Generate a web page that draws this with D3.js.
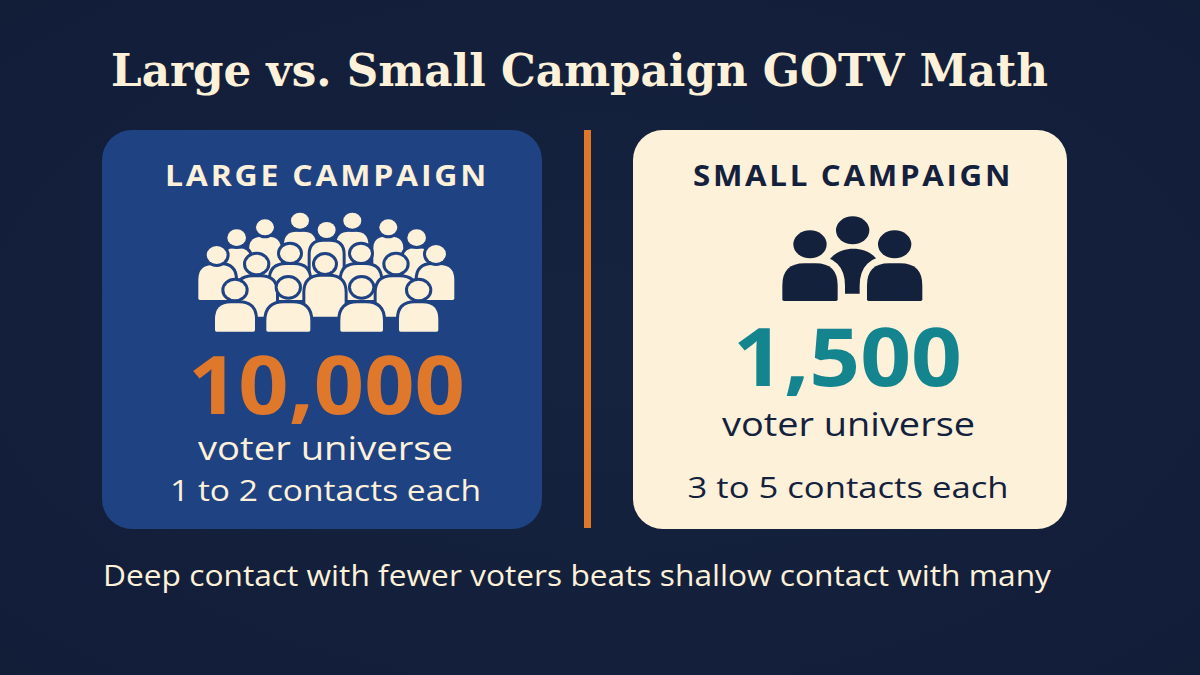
<!DOCTYPE html>
<html>
<head>
<meta charset="utf-8">
<title>Large vs. Small Campaign GOTV Math</title>
<script src="https://cdn.jsdelivr.net/npm/d3@7"></script>
<style>
  html,body{margin:0;padding:0;background:#14213d}
  svg{display:block}
  text{font-family:"Open Sans","Noto Sans",sans-serif}
</style>
</head>
<body>
<svg id="chart" width="1200" height="675"></svg>
<script>
// values
const titleText = 'Large vs. Small Campaign GOTV Math';
const footerText = 'Deep contact with fewer voters beats shallow contact with many';
const campaigns = ['LARGE CAMPAIGN', 'SMALL CAMPAIGN'];
const voterUniverse = [10000, 1500];
const universeLabel = ['voter universe', 'voter universe'];
const contactLabels = ['1 to 2 contacts each', '3 to 5 contacts each'];

// colours
const BG = '#14213d', BLUE = '#1f4283', CREAM = '#fdf1d9', ORANGE = '#e0782b', TEAL = '#14858f';

// layout, one entry per panel
const panelBox = [{x: 102, y: 130, w: 440, h: 399}, {x: 633, y: 130, w: 434, h: 399}];
const panelFill = [BLUE, CREAM];
const inkFill = [CREAM, BG];
const numberFill = [ORANGE, TEAL];
const nameX = [327, 853], nameY = [186, 186], nameW = [324, 320];
const numberX = [326.5, 847.5], numberY = [414, 386], numberW = [277, 229];
const universeX = [325.5, 848.5], universeY = [460, 436], universeW = [255, 253];
const contactX = [325.5, 848], contactY = [501, 498], contactW = [311, 321];

// crowd icon, in 3x units of the icon box, back to front
const crowd = [
  [360,62,27,24,48,95,260],[517,62,27,24,48,95,260],
  [255,82,27,24,48,110,300],[625,82,27,24,45,110,300],
  [440,90,27,24,48,125,260],
  [170,113,28,25,40,145,300],[710,113,28,25,40,145,300],
  [330,160,30,26,58,195,300],[543,160,30,26,58,195,300],
  [110,165,30,27,55,195,300],[768,162,30,27,55,195,300],
  [230,192,32,28,58,232,350],[648,192,32,28,58,232,350],
  [435,192,30,27,59,230,350],
  [165,270,32,28,60,310,395],[325,262,32,28,66,310,395],
  [545,262,32,28,64,310,395],[716,270,32,28,59,310,395]
];
// small icon: side figures in front of a centre figure
const trio = [[120,118,50,42,83,175,288],[374,118,50,42,83,175,288]];

const svg = d3.select('#chart');

// faint vignette on the background
const defs = svg.append('defs');
const grad = defs.append('radialGradient').attr('id', 'bg').attr('r', '75%');
grad.append('stop').attr('offset', '0%').attr('stop-color', '#15233f');
grad.append('stop').attr('offset', '100%').attr('stop-color', '#121d38');
svg.append('rect').attr('width', 1200).attr('height', 675).attr('fill', 'url(#bg)');

svg.append('text')
  .attr('x', 111).attr('y', 86)
  .attr('textLength', 937).attr('lengthAdjust', 'spacingAndGlyphs')
  .attr('fill', CREAM)
  .style('font-family', '"DejaVu Serif",serif')
  .style('font-weight', 700).style('font-size', '45px')
  .text(titleText);

// divider
svg.append('rect').attr('x', 584).attr('y', 130).attr('width', 7).attr('height', 398).attr('fill', ORANGE);

const panels = svg.selectAll('g.panel')
  .data(campaigns.map((name, i) => ({name, i})))
  .join('g').attr('class', 'panel');

panels.append('rect')
  .attr('x', d => panelBox[d.i].x).attr('y', d => panelBox[d.i].y)
  .attr('width', d => panelBox[d.i].w).attr('height', d => panelBox[d.i].h)
  .attr('rx', 30)
  .attr('fill', d => panelFill[d.i]);

// all panel text is fitted to the measured width in the reference
function panelText(xArr, yArr, wArr, weight, size, fill, label) {
  return panels.append('text')
    .attr('x', d => xArr[d.i]).attr('y', d => yArr[d.i])
    .attr('text-anchor', 'middle').attr('fill', fill)
    .attr('textLength', d => wArr[d.i]).attr('lengthAdjust', 'spacingAndGlyphs')
    .style('font-weight', weight).style('font-size', size)
    .text(label);
}

const fmt = d3.format(',');
panelText(nameX, nameY, nameW, 700, '29px', d => inkFill[d.i], d => d.name).style('letter-spacing', '2.5px');
panelText(numberX, numberY, numberW, 700, '80px', d => numberFill[d.i], d => fmt(voterUniverse[d.i]));
panelText(universeX, universeY, universeW, 500, '33px', d => inkFill[d.i], d => universeLabel[d.i]);
panelText(contactX, contactY, contactW, 500, '30px', d => inkFill[d.i], d => contactLabels[d.i]);

svg.append('text')
  .attr('x', 103).attr('y', 586)
  .attr('textLength', 948).attr('lengthAdjust', 'spacingAndGlyphs')
  .attr('fill', CREAM)
  .style('font-size', '28.5px').style('font-weight', 500)
  .text(footerText);

// body with a rounded top, bg stroke makes the gap between figures
function bodyPath(x, halfW, top, bottom) {
  const r = halfW * 0.8, c = 5;
  return `M${x - halfW},${bottom - c}V${top + r}Q${x - halfW},${top} ${x - halfW + r},${top}`
    + `H${x + halfW - r}Q${x + halfW},${top} ${x + halfW},${top + r}`
    + `V${bottom - c}Q${x + halfW},${bottom} ${x + halfW - c},${bottom}`
    + `H${x - halfW + c}Q${x - halfW},${bottom} ${x - halfW},${bottom - c}Z`;
}

function drawFigures(g, rows, ink, halo, gap) {
  const fig = g.selectAll('g').data(rows).join('g');
  fig.append('path')
    .attr('d', d => bodyPath(d[0], d[4], d[5], d[6]))
    .attr('fill', ink).attr('stroke', halo).attr('stroke-width', gap)
    .style('paint-order', 'stroke');
  fig.append('ellipse')
    .attr('cx', d => d[0]).attr('cy', d => d[1]).attr('rx', d => d[2]).attr('ry', d => d[3])
    .attr('fill', ink).attr('stroke', halo).attr('stroke-width', gap)
    .style('paint-order', 'stroke');
}

const crowdG = svg.append('g').attr('transform', 'translate(180,200) scale(0.3333)');
drawFigures(crowdG, crowd, CREAM, BLUE, 18);

const trioG = svg.append('g').attr('transform', 'translate(770,205) scale(0.3333)');
trioG.append('ellipse').attr('cx', 248).attr('cy', 76).attr('rx', 50).attr('ry', 42).attr('fill', BG);
trioG.append('path')
  .attr('d', 'M178,165C210,120 290,120 322,165L322,266H178Z')
  .attr('fill', BG);
drawFigures(trioG, trio, BG, CREAM, 44);
trioG.selectAll('ellipse').attr('stroke', 'none');
</script>
</body>
</html>
